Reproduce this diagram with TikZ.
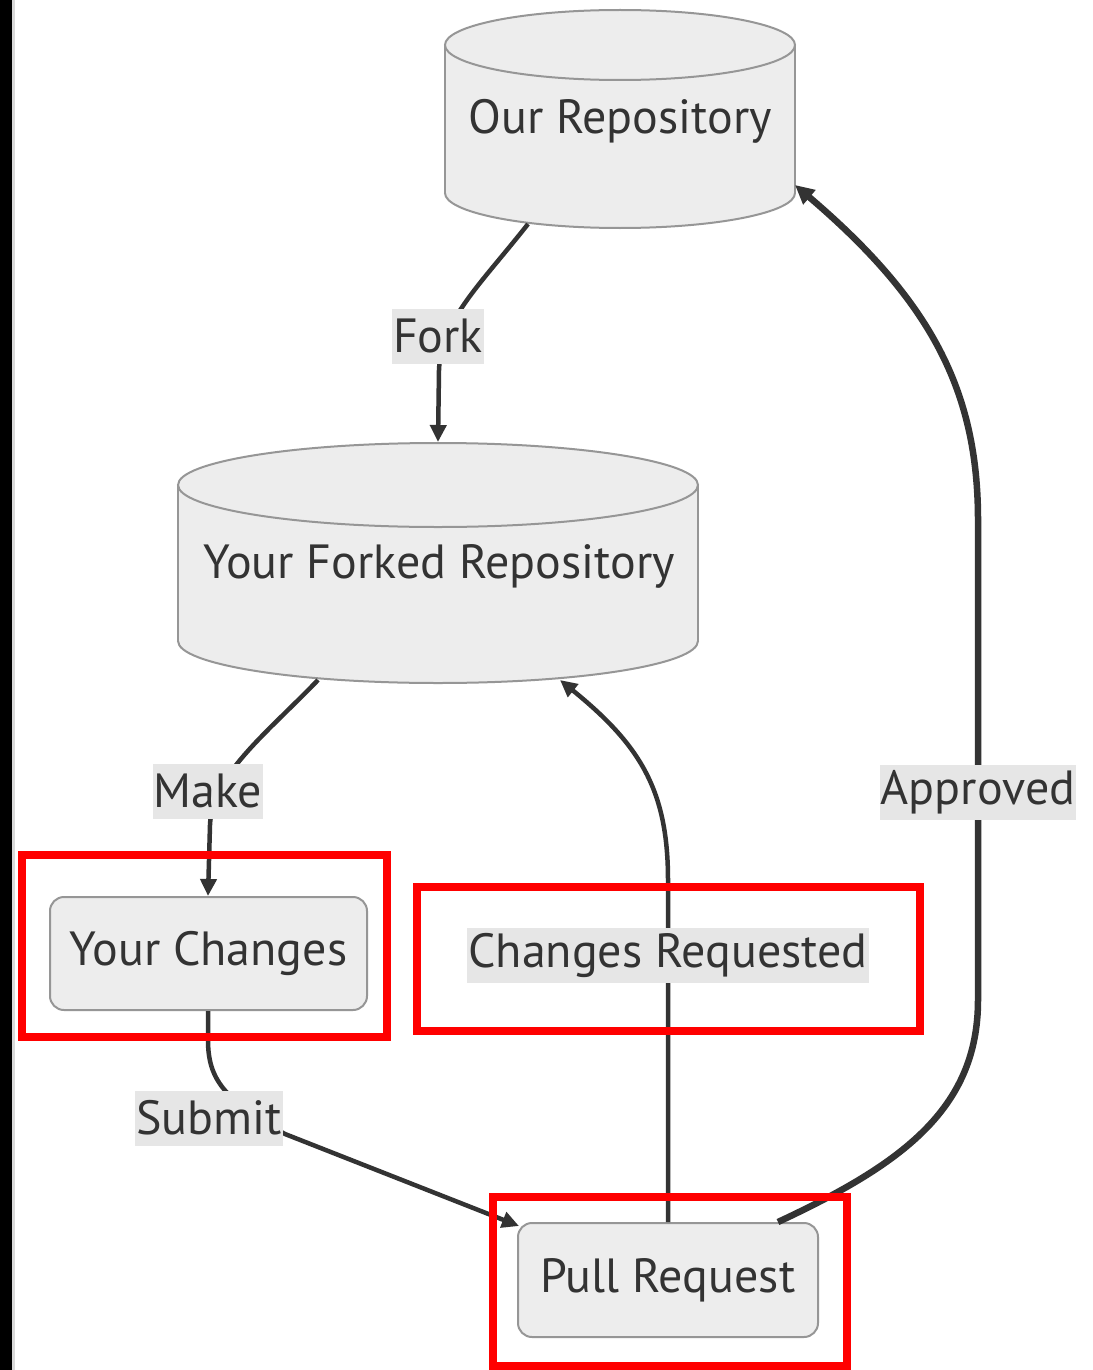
\documentclass[tikz,border=0pt]{standalone}
\usepackage{fontspec}
\setmainfont{PT Sans}
\usetikzlibrary{arrows.meta}
\definecolor{ink}{HTML}{333333}
\definecolor{boxfill}{HTML}{EDEDED}
\definecolor{boxline}{HTML}{969696}
\definecolor{labelbg}{HTML}{E6E6E6}
\definecolor{mark}{HTML}{FF0000}
\tikzset{
  txt/.style={text=ink, font=\fontsize{48}{57}\selectfont, inner sep=0pt},
  cylside/.style={draw=boxline, line width=2pt},
  procbox/.style={draw=boxline, fill=boxfill, line width=2pt, rounded corners=14pt,
    text=ink, font=\fontsize{48}{57}\selectfont},
  edgelabel/.style={fill=labelbg, text=ink, font=\fontsize{48}{57}\selectfont,
    inner xsep=1pt, inner ysep=0pt, minimum height=55pt},
  flow/.style={draw=ink, line width=4.5pt, -{Triangle[length=17pt,width=16pt]}},
  heavyflow/.style={draw=ink, line width=6.5pt, -{Triangle[length=19pt,width=18pt]}},
  highlight/.style={draw=mark, line width=8pt},
}
% cylinder: left x, right x, top rim centre y, bottom rim centre y, rim radius
\newcommand{\drumshape}[5]{%
  \fill[boxfill] (#1,#3) rectangle (#2,#4);
  \fill[boxfill] ({(#1+#2)/2},#3) ellipse [x radius={(#2-#1)/2}, y radius=#5];
  \fill[boxfill] ({(#1+#2)/2},#4) ellipse [x radius={(#2-#1)/2}, y radius=#5];
  \draw[cylside] ({(#1+#2)/2},#3) ellipse [x radius={(#2-#1)/2}, y radius=#5];
  \draw[cylside] (#1,#3) -- (#1,#4);
  \draw[cylside] (#2,#3) -- (#2,#4);
  \begin{scope}
    \clip (#1-5,#4) rectangle (#2+5,#4+#5+5);
    \draw[cylside] ({(#1+#2)/2},#4) ellipse [x radius={(#2-#1)/2}, y radius=#5];
  \end{scope}%
}
\begin{document}
\begin{tikzpicture}[x=1pt, y=-1pt]
  \useasboundingbox (0,0) rectangle (1092,1370);
  \fill[white] (0,0) rectangle (1092,1370);
  % dark window edge on the left
  \fill[black] (0,0) rectangle (12,1370);
  \fill[black!15] (12,0) rectangle (15,1370);

  % repositories
  \drumshape{445}{795}{45}{193}{35}
  \drumshape{178}{698}{485}{641}{42}
  \node[txt] (ours) at (620,121) {Our Repository};
  \node[txt] (forked) at (439,566) {Your Forked Repository};

  % process boxes
  \node[procbox, minimum width=317pt, minimum height=113pt] (changes) at (208.5,953.5) {Your Changes};
  \node[procbox, minimum width=300pt, minimum height=114pt] (pr) at (668,1280) {Pull Request};

  % connection points on the shapes
  \coordinate (oursB) at (528,224);
  \coordinate (oursR) at (795,185);
  \coordinate (forkedT) at (438,442);
  \coordinate (forkedBL) at (318,680);
  \coordinate (forkedBR) at (560,680);
  \coordinate (changesT) at (208,896);
  \coordinate (changesB) at (208,1011);
  \coordinate (prL) at (519,1226);
  \coordinate (prT) at (668,1222);
  \coordinate (prTR) at (778,1222);

  % label positions
  \coordinate (forkAt) at (438,336);
  \coordinate (makeAt) at (208,791);
  \coordinate (submitAt) at (209,1118);
  \coordinate (reqAt) at (668,955);
  \coordinate (apprAt) at (978,792);

  % connectors
  \draw[flow] (oursB) .. controls (480,285) and (441,320) .. (439,370) -- (forkedT);
  \draw[flow] (forkedBL) .. controls (265,735) and (212,775) .. (210,825) -- (changesT);
  \draw[flow] (changesB) -- (208,1040) .. controls (208,1080) and (225,1100) .. (285,1134) -- (prL);
  \draw[flow] (prT) -- (668,880) .. controls (668,790) and (640,745) .. (forkedBR);
  \draw[heavyflow] (prTR) .. controls (900,1165) and (978,1110) .. (978,1000)
    -- (978,520) .. controls (978,390) and (930,300) .. (oursR);

  % edge labels
  \node[edgelabel] (forkLbl) at (forkAt) {Fork};
  \node[edgelabel] (makeLbl) at (makeAt) {Make};
  \node[edgelabel] (submitLbl) at (submitAt) {Submit};
  \node[edgelabel] (reqLbl) at (reqAt) {Changes Requested};
  \node[edgelabel] (apprLbl) at (apprAt) {Approved};

  % red highlight frames
  \draw[highlight] (22,855) rectangle (387,1037);
  \draw[highlight] (417,887) rectangle (920,1031);
  \draw[highlight] (493,1197) rectangle (847,1366);
\end{tikzpicture}
\end{document}
